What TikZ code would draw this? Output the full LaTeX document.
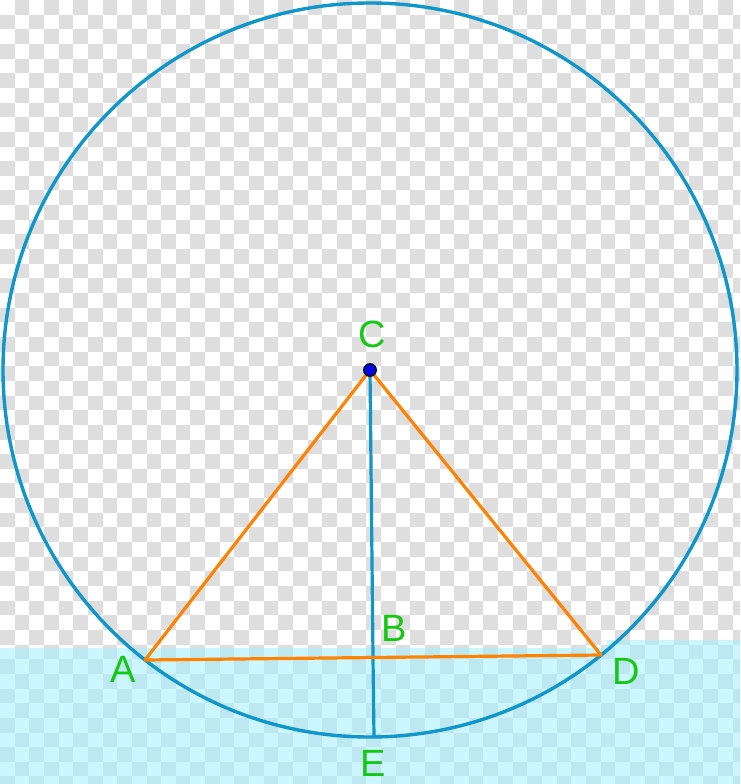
\documentclass[tikz,border=0pt]{standalone}
\usepackage{fontspec}
\setmainfont{Liberation Sans}
\definecolor{circblue}{RGB}{16,150,200}
\definecolor{segorange}{RGB}{255,130,0}
\definecolor{lblgreen}{RGB}{20,200,20}
\definecolor{checkgray}{RGB}{222,222,222}
\definecolor{regioncyan}{RGB}{170,240,255}
\definecolor{dotblue}{RGB}{0,0,230}
\tikzset{
  lbl/.style={text=lblgreen, inner sep=0pt, font=\fontsize{38}{40}\selectfont},
  circ/.style={draw=circblue, line width=3.4pt},
  seg/.style={draw=segorange, line width=3.2pt, line cap=round, line join=round},
  radial/.style={draw=circblue, line width=3.2pt},
}
\begin{document}
\begin{tikzpicture}[x=1pt,y=-1pt]
\useasboundingbox (0,0) rectangle (740,784);
\begin{scope}
\clip (0,0) rectangle (740,784);
\fill[white] (0,0) rectangle (740,784);
\foreach \j in {0,...,53}{
  \pgfmathsetmacro\s{mod(\j+1,2)}
  \foreach \i in {0,2,...,50}{
    \fill[checkgray] ({(\i+\s)*14.65},{\j*14.65}) rectangle +(14.65,14.65);
  }
}
\fill[regioncyan, opacity=0.6] (0,648) -- (607,648) -- (607,640) -- (740,640) -- (740,784) -- (0,784) -- cycle;
\end{scope}
\coordinate (C) at (370,370);
\coordinate (A) at (145,660);
\coordinate (D) at (601,655);
\coordinate (E) at (374,737);
\coordinate (B) at (373,657);
\draw[circ] (C) circle (367);
\draw[radial] (C) -- (B) -- (E);
\draw[seg] (A) -- (C) -- (D);
\draw[seg] (A) -- (D);
\filldraw[fill=dotblue, draw=black, line width=1.2pt] (C) circle (6.3);
\node[lbl] (lC) at (372,334) {C};
\node[lbl] (lA) at (123,669) {A};
\node[lbl] (lD) at (626,671) {D};
\node[lbl] (lB) at (394,628) {B};
\node[lbl] (lE) at (373,763) {E};
\end{tikzpicture}
\end{document}
